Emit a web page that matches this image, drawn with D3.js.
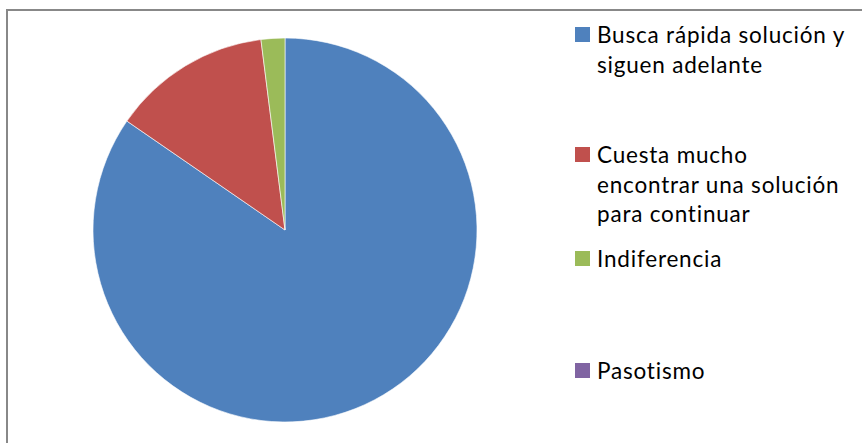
<!DOCTYPE html>
<html>
<head>
<meta charset="utf-8">
<script src="https://cdn.jsdelivr.net/npm/d3@7"></script>
<style>
  body { margin: 0; background: #fff; }
  svg { display: block; }
  .legend text { font-family: Lato, "Open Sans", sans-serif; font-size: 22.5px; letter-spacing: 0.8px; fill: #000; }
</style>
</head>
<body>
<svg id="chart" width="862" height="443"></svg>
<script>
// data
const categories = [
    ["Busca rápida solución y", "siguen adelante"],
    ["Cuesta mucho", "encontrar una solución", "para continuar"],
    ["Indiferencia"],
    ["Pasotismo"]
];
const values = [84.6, 13.4, 2.0, 0];
const colors = ["#4F81BD", "#C0504D", "#9BBB59", "#8064A2"];

// layout
const W = 862, H = 443;
const cx = 285, cy = 230, radius = 192;
const legendX = 575, legendBaselines = [43, 163, 267, 379];
const lineGap = 29.5;

const svg = d3.select("#chart");

// frame
svg.append("path")
    .attr("d", `M7,${H} L7,10 L${W},10`)
    .attr("fill", "none")
    .attr("stroke", "#888")
    .attr("stroke-width", 2);

const pie = d3.pie().sort(null).value(d => d)(values);
const arc = d3.arc().innerRadius(0).outerRadius(radius);

svg.append("g")
    .attr("transform", `translate(${cx},${cy})`)
    .selectAll("path")
    .data(pie.filter(d => d.value > 0))
    .join("path")
    .attr("d", arc)
    .attr("fill", d => colors[d.index])
    .attr("stroke", "#fff")
    .attr("stroke-width", 0.6);

const legend = svg.append("g").attr("class", "legend");
const items = legend.selectAll("g")
    .data(categories)
    .join("g")
    .attr("transform", (d, i) => `translate(${legendX},${legendBaselines[i]})`);

items.append("rect")
    .attr("x", 0)
    .attr("y", -16)
    .attr("width", 15)
    .attr("height", 15)
    .attr("fill", (d, i) => colors[i]);

items.append("text")
    .selectAll("tspan")
    .data(d => d)
    .join("tspan")
    .attr("x", 22)
    .attr("y", (d, j) => j * lineGap)
    .text(d => d);
</script>
</body>
</html>
